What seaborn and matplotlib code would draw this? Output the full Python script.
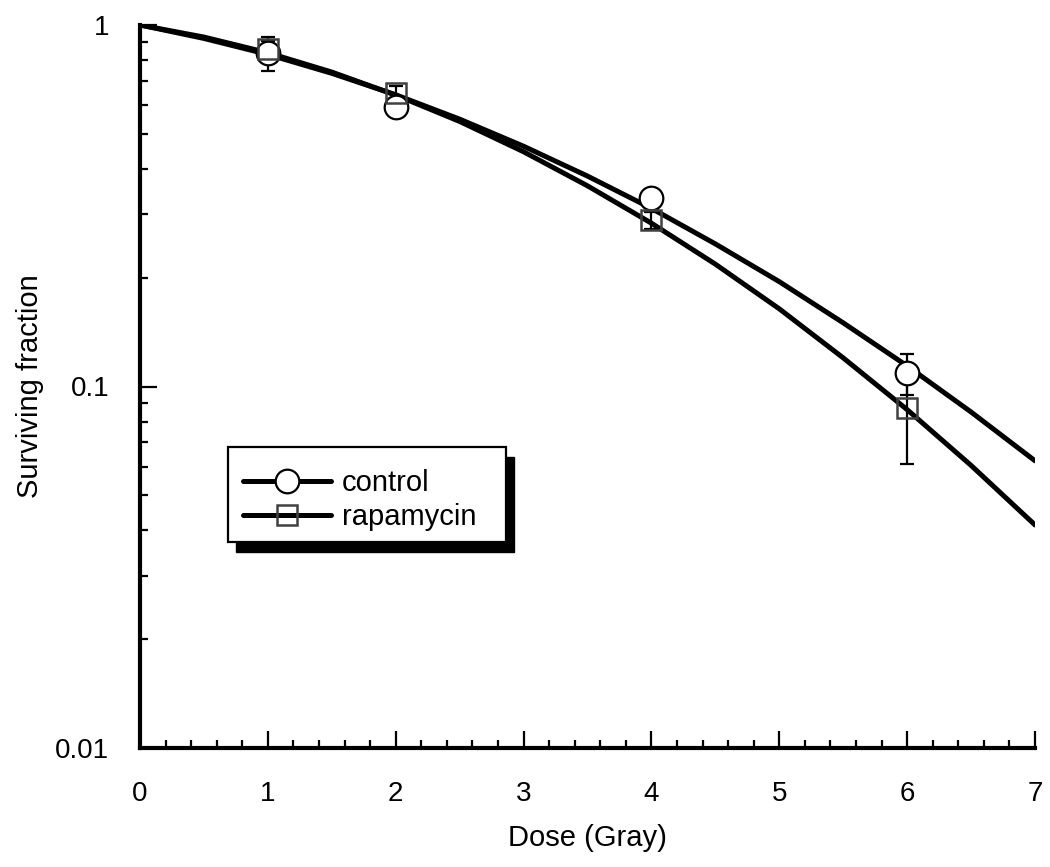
import matplotlib
matplotlib.use("Agg")
import matplotlib.pyplot as plt
import matplotlib.patches as mpatches
from matplotlib.lines import Line2D
from matplotlib.ticker import FixedLocator, NullFormatter, LogLocator
import seaborn as sns
import pandas as pd
import numpy as np

# ---- data ----
fit_dose = [0.0, 0.5, 1.0, 1.5, 2.0, 2.5, 3.0, 3.5, 4.0, 4.5, 5.0, 5.5, 6.0, 6.5, 7.0]
fit_control = [1.0, 0.918, 0.829, 0.735, 0.641, 0.549, 0.462, 0.382, 0.311,
               0.248, 0.195, 0.150, 0.114, 0.0850, 0.0623]
fit_rapamycin = [1.0, 0.926, 0.838, 0.741, 0.640, 0.541, 0.446, 0.359, 0.283,
                 0.218, 0.164, 0.120, 0.0863, 0.0605, 0.0414]

pt_dose = [1, 2, 4, 6]
control_sf = [0.838, 0.594, 0.332, 0.109]
control_err = [0.09, 0.03, 0.015, 0.014]
rapa_sf = [0.858, 0.648, 0.288, 0.087]
rapa_err = [0.045, 0.03, 0.015, 0.026]

x_ticks = [0, 1, 2, 3, 4, 5, 6, 7]
y_ticks = [0.01, 0.1, 1]
y_tick_labels = ["0.01", "0.1", "1"]
series_labels = ["control", "rapamycin"]

sns.set_style("white")
plt.rcParams["font.family"] = ["Liberation Sans", "DejaVu Sans"]
plt.rcParams.update({
    "xtick.bottom": True, "ytick.left": True,
    "text.color": "black", "axes.labelcolor": "black",
    "xtick.color": "black", "ytick.color": "black",
})

fig = plt.figure(figsize=(10.5, 8.67), dpi=100)
ax = fig.add_axes([140 / 1050, 1 - 748 / 867, 895 / 1050, 723 / 867])

fit_df = pd.DataFrame({
    "dose": fit_dose * 2,
    "sf": fit_control + fit_rapamycin,
    "group": [series_labels[0]] * len(fit_dose) + [series_labels[1]] * len(fit_dose),
})
sns.lineplot(data=fit_df, x="dose", y="sf", units="group", estimator=None,
             color="black", linewidth=3.6, ax=ax, legend=False, zorder=2)

ax.errorbar(pt_dose, control_sf, yerr=control_err, fmt="none", ecolor="black",
            elinewidth=1.6, capsize=5, capthick=1.6, zorder=3)
ax.errorbar(pt_dose, rapa_sf, yerr=rapa_err, fmt="none", ecolor="black",
            elinewidth=1.6, capsize=5, capthick=1.6, zorder=3)
ax.plot(pt_dose, control_sf, linestyle="none", marker="o", markersize=17,
        markerfacecolor="white", markeredgecolor="black", markeredgewidth=1.6, zorder=4)
ax.plot(pt_dose, rapa_sf, linestyle="none", marker="s", markersize=14,
        markerfacecolor="none", markeredgecolor="#404040", markeredgewidth=1.8, zorder=5)

ax.set_yscale("log")
ax.set_xlim(0, 7)
ax.set_ylim(0.01, 1)

ax.set_xticks(x_ticks)
ax.set_xticklabels([str(t) for t in x_ticks])
ax.xaxis.set_minor_locator(FixedLocator([i * 0.2 for i in range(36)]))
ax.set_yticks(y_ticks)
ax.set_yticklabels(y_tick_labels)
ax.yaxis.set_minor_locator(LogLocator(base=10, subs=np.arange(2, 10)))
ax.yaxis.set_minor_formatter(NullFormatter())

ax.tick_params(axis="both", which="major", direction="in", length=12, width=1.6,
               labelsize=20, color="black", labelcolor="black",
               bottom=True, left=True)
ax.tick_params(axis="both", which="minor", direction="in", length=6, width=1.6,
               color="black", bottom=True, left=True)
ax.tick_params(axis="x", which="major", pad=24)
ax.tick_params(axis="y", which="major", pad=22)

for s in ["top", "right"]:
    ax.spines[s].set_visible(False)
for s in ["left", "bottom"]:
    ax.spines[s].set_linewidth(3.0)
    ax.spines[s].set_color("black")

ax.set_xlabel("Dose (Gray)", fontsize=21, labelpad=12)
ax.set_ylabel("Surviving fraction", fontsize=21, labelpad=8)

# legend with hand-drawn box and solid shadow
bx0 = (228 - 140) / 895
bx1 = (506 - 140) / 895
by1 = (748 - 447) / 723
by0 = (748 - 542) / 723
dx = 8 / 895
dy = 10 / 723
shadow = mpatches.Rectangle((bx0 + dx, by0 - dy), bx1 - bx0, by1 - by0,
                            transform=ax.transAxes, facecolor="black",
                            edgecolor="black", zorder=6, clip_on=False)
frame = mpatches.Rectangle((bx0, by0), bx1 - bx0, by1 - by0,
                           transform=ax.transAxes, facecolor="white",
                           edgecolor="black", linewidth=1.6, zorder=7, clip_on=False)
ax.add_patch(shadow)
ax.add_patch(frame)

handles = [
    Line2D([], [], color="black", linewidth=3.6, marker="o", markersize=17,
           markerfacecolor="white", markeredgecolor="black", markeredgewidth=1.6),
    Line2D([], [], color="black", linewidth=3.6, marker="s", markersize=14,
           markerfacecolor="none", markeredgecolor="#404040", markeredgewidth=1.8),
]
leg = ax.legend(handles, series_labels, loc="upper left",
                bbox_to_anchor=((243 - 140) / 895, (748 - 469) / 723),
                frameon=False, fontsize=21, handlelength=3.0, handletextpad=0.4,
                labelspacing=0.2, borderpad=0, borderaxespad=0, numpoints=1)
leg.set_zorder(8)

fig.savefig("out.png", dpi=100)
